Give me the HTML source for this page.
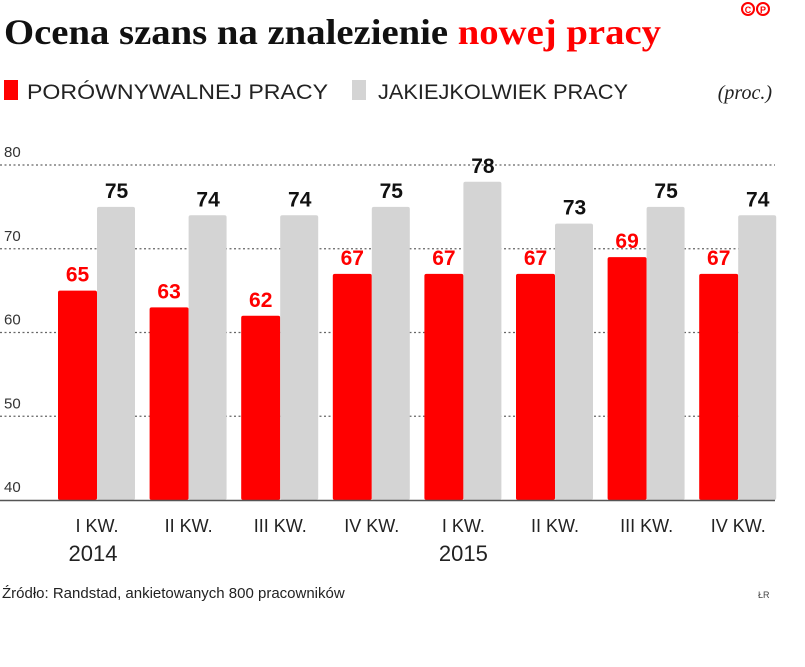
<!DOCTYPE html>
<html><head><meta charset="utf-8"><style>
body{margin:0;background:#fff;width:805px;height:662px;overflow:hidden;font-family:"Liberation Sans",sans-serif}
</style></head><body>
<svg width="805" height="662" xmlns="http://www.w3.org/2000/svg">
<text x="4" y="44" font-family="Liberation Serif" font-weight="bold" font-size="36" textLength="657" lengthAdjust="spacingAndGlyphs"><tspan fill="#111">Ocena szans na znalezienie </tspan><tspan fill="#f00">nowej pracy</tspan></text>
<g fill="none" stroke="#f00" stroke-width="2">
<circle cx="748" cy="9" r="6"/><circle cx="763" cy="9" r="6"/>
<text x="748" y="13" font-size="9" fill="#f00" stroke="none" text-anchor="middle" font-weight="bold">C</text>
<text x="763" y="13" font-size="9" fill="#f00" stroke="none" text-anchor="middle" font-weight="bold">P</text></g>
<g>
<rect x="4" y="80" width="14" height="20" fill="#f00"/>
<text x="27" y="99" font-size="21" fill="#222" textLength="301" lengthAdjust="spacingAndGlyphs">PORÓWNYWALNEJ PRACY</text>
<rect x="352" y="80" width="14" height="20" fill="#d4d4d4"/>
<text x="378" y="99" font-size="21" fill="#222" textLength="250" lengthAdjust="spacingAndGlyphs">JAKIEJKOLWIEK PRACY</text>
<text x="772" y="99" font-size="20" font-style="italic" font-family="Liberation Serif" fill="#222" text-anchor="end">(proc.)</text>
</g>
<g id="grid"></g><g id="bars"></g>
<text x="2" y="598" font-size="15" fill="#222">Źródło: Randstad, ankietowanych 800 pracowników</text>
<text x="758" y="598" font-size="9" fill="#444">ŁR</text>
</svg>
<script>
const categories=["I KW.","II KW.","III KW.","IV KW.","I KW.","II KW.","III KW.","IV KW."];
const years=["2014","","","","2015","","",""];
const comparable=[65,63,62,67,67,67,69,67];
const anyJob=[75,74,74,75,78,73,75,74];
const yTicks=[40,50,60,70,80];
const NS="http://www.w3.org/2000/svg";
const y0=500,pxPer=8.375,yMin=40;
const y=v=>y0-(v-yMin)*pxPer;
const x=i=>58+i*91.6;
const bw=39;
function mk(t,a,p){const e=document.createElementNS(NS,t);for(const k in a)e.setAttribute(k,a[k]);if(a.text){e.textContent=a.text;e.removeAttribute('text');}p.appendChild(e);return e;}
const g=document.getElementById('grid'),b=document.getElementById('bars');
yTicks.forEach(t=>{
 if(t>yMin){const l=mk('line',{x1:0,x2:775,y1:y(t),y2:y(t),stroke:'#666','stroke-width':1.3,'stroke-dasharray':'2,2.5'},g);
 
 }
 const tx=mk('text',{x:4,y:y(t)-8,'font-size':15,fill:'#333',text:String(t)},g);
 
 
});
categories.forEach((c,i)=>{
 const r=mk('rect',{x:x(i),y:y(comparable[i]),width:bw,height:y0-y(comparable[i]),fill:'#f00',rx:2},b);
 
 
 const r2=mk('rect',{x:x(i)+bw,y:y(anyJob[i]),width:bw-1,height:y0-y(anyJob[i]),fill:'#d4d4d4',rx:2},b);
 
 
 const t1=mk('text',{x:x(i)+bw/2,y:y(comparable[i])-9,'font-size':21,'font-weight':'bold',fill:'#f00','text-anchor':'middle',text:String(comparable[i])},b);
 
 
 const t2=mk('text',{x:x(i)+bw*1.5,y:y(anyJob[i])-9,'font-size':21,'font-weight':'bold',fill:'#111','text-anchor':'middle',text:String(anyJob[i])},b);
 
 
 const cl=mk('text',{x:x(i)+bw,y:532,'font-size':18,fill:'#222','text-anchor':'middle',text:c},b);
 
 
 if(years[i]){const yl=mk('text',{x:x(i)+bw-4+(i?4:0),y:561,'font-size':22,fill:'#222','text-anchor':'middle',text:years[i]},b);
 
 }
});
const ax=mk('line',{x1:0,x2:775,y1:y0+0.5,y2:y0+0.5,stroke:'#555','stroke-width':1.5},b);


</script>
</body></html>
